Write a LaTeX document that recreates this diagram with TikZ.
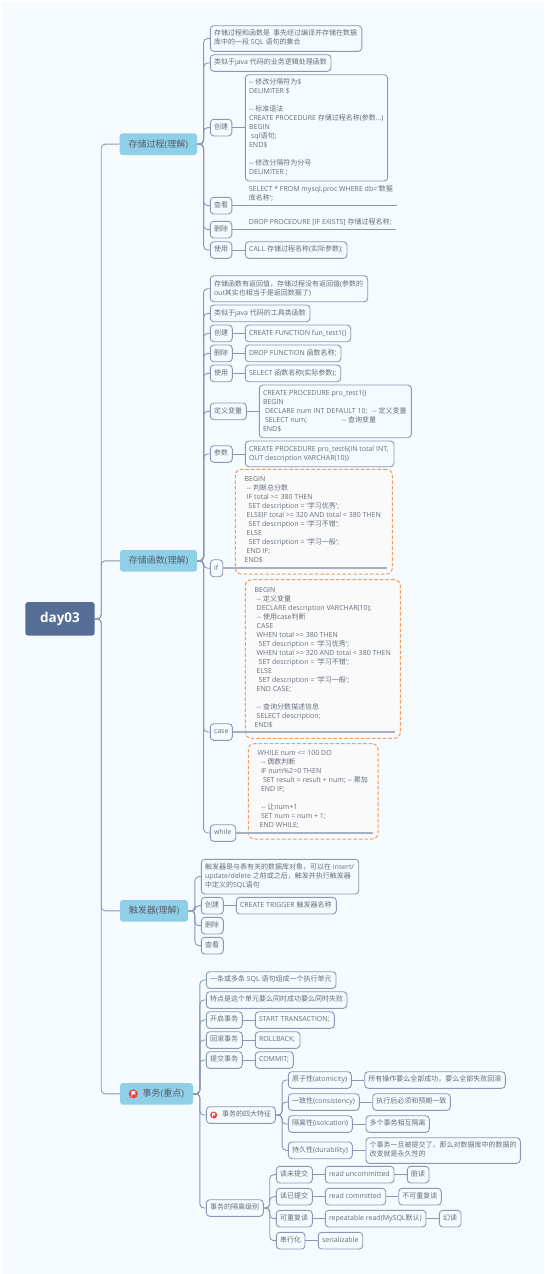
\documentclass[tikz,border=0pt]{standalone}
\usepackage{fontspec}
\setmainfont{Open Sans}[Ligatures=TeXOff]
\newfontfamily\cjk{Noto Sans CJK SC}
\newcommand{\zh}[1]{{\cjk #1}}
\newcommand{\ia}{\hspace*{2pt}}
\newcommand{\ib}{\hspace*{4pt}}
\definecolor{bgc}{HTML}{F6FBFF}
\definecolor{linec}{HTML}{8C98B2}
\definecolor{thickc}{HTML}{A7AFC3}
\definecolor{textc}{HTML}{666E7B}
\definecolor{topicc}{HTML}{8FD0E8}
\definecolor{rootc}{HTML}{566D96}
\definecolor{orangec}{HTML}{F39A5E}
\definecolor{orangef}{HTML}{FAFAFB}
\definecolor{flagc}{HTML}{EE3D33}
\tikzset{
  boxnode/.style={draw=linec,line width=0.9pt,rounded corners=3.5pt,fill=bgc,text=textc,inner xsep=3.7pt,inner ysep=0pt,font=\fontsize{7}{9}\selectfont},
  plainnode/.style={text=textc,inner xsep=3.7pt,inner ysep=0pt,font=\fontsize{7}{9}\selectfont},
  orangenode/.style={draw=orangec,line width=1pt,dash pattern=on 3.5pt off 2pt,rounded corners=6pt,fill=orangef,text=textc,inner xsep=3.7pt,inner ysep=0pt,font=\fontsize{7}{9}\selectfont},
  topicnode/.style={fill=topicc,rounded corners=3pt,text=textc!85!black,inner sep=0pt,font=\fontsize{9}{11}\selectfont},
  rootnode/.style={fill=rootc,rounded corners=3pt,text=white,inner sep=0pt,font=\fontsize{13.5}{16}\selectfont\bfseries},
  conn/.style={draw=linec,line width=0.9pt},
  connthick/.style={draw=thickc,line width=1.5pt},
  elbow/.style={conn,rounded corners=4pt}
}
\newcommand{\bx}[7][boxnode]{%
  \pgfmathsetmacro\bcx{(#3+#5)/2}\pgfmathsetmacro\bcy{(#4+#6)/2}%
  \pgfmathsetmacro\bw{#5-#3}\pgfmathsetmacro\bh{#6-#4}\pgfmathsetmacro\bt{#5-#3-7.4}%
  \node[#1,minimum width=\bw pt,minimum height=\bh pt] (#2) at (\bcx,\bcy)
    {\makebox[\bt pt][l]{\begin{tabular}{@{}l@{}}#7\end{tabular}}};}
\newcommand{\obx}[7][0]{%
  \pgfmathsetmacro\bcx{(#3+#5)/2}\pgfmathsetmacro\bcy{(#4+#6)/2}%
  \pgfmathsetmacro\bw{#5-#3}\pgfmathsetmacro\bh{#6-#4}\pgfmathsetmacro\bt{#5-#3-7.4}%
  \node[orangenode,minimum width=\bw pt,minimum height=\bh pt] (#2) at (\bcx,\bcy)
    {\makebox[\bt pt][l]{\begin{tabular}{@{\hspace{#1pt}}l@{}}#7\end{tabular}}};}
\newcommand{\tp}[7][topicnode]{%
  \pgfmathsetmacro\bcx{(#3+#5)/2}\pgfmathsetmacro\bcy{(#4+#6)/2}%
  \pgfmathsetmacro\bw{#5-#3}\pgfmathsetmacro\bh{#6-#4}%
  \node[#1,minimum width=\bw pt,minimum height=\bh pt] (#2) at (\bcx,\bcy) {#7};}
\newcommand{\hl}[2]{\draw[conn] (#1.east) -- (#1.east -| #2.west);}
\newcommand{\tree}[3]{\draw[elbow] (#1.east) -- ++(#2,0) |- (#3.west);}
\newcommand{\flagicon}[3]{%
  \fill[flagc] (#1,#2) circle (#3);
  \fill[white] (#1-0.45*#3,#2+0.6*#3) -- (#1-0.45*#3,#2-0.6*#3) -- (#1+0.55*#3,#2-0.6*#3)
     -- (#1+0.25*#3,#2-0.25*#3) -- (#1+0.55*#3,#2+0.1*#3) -- (#1-0.25*#3,#2+0.1*#3)
     -- (#1-0.25*#3,#2+0.6*#3) -- cycle;}
\begin{document}
\begin{tikzpicture}[x=1pt,y=-1pt]
\useasboundingbox (0,0) rectangle (545,1274);
\fill[white] (0,0) rectangle (545,1274);
\fill[bgc] (2,2) rectangle (544,1274);

% root and main topics
\tp[rootnode]{root}{25.3}{602}{94.7}{635.7}{day03}
\tp{m1}{119.6}{133.3}{197}{155}{\zh{存储过程}(\zh{理解})}
\tp{m2}{120}{550}{197}{571.7}{\zh{存储函数}(\zh{理解})}
\tp{m3}{120}{900}{188}{921.7}{\zh{触发器}(\zh{理解})}
\tp{m4}{120}{1083}{193}{1104.7}{\hspace*{13.6pt}\zh{事务}(\zh{重点})}
\flagicon{133.3}{1093.8}{4.5}
\tree{root}{6.3}{m1}
\tree{root}{6.3}{m2}
\tree{root}{6.3}{m3}
\tree{root}{6.3}{m4}

% stored procedures
\bx{a1}{210.3}{25.7}{361.8}{51.3}{\zh{存储过程和函数是 \ 事先经过编译并存储在数据}\\\zh{库中的一段} SQL \zh{语句的集合}}
\bx{a2}{210.3}{54.7}{331}{71.3}{\zh{类似于}java \zh{代码的业务逻辑处理函数}}
\bx{a3}{210.3}{119.3}{231.8}{136}{\zh{创建}}
\bx{a3b}{245.4}{74.7}{387.6}{181}{-- \zh{修改分隔符为}\$\\DELIMITER \$\\~\\-- \zh{标准语法}\\CREATE PROCEDURE \zh{存储过程名称}(\zh{参数}...)\\BEGIN\\\ia sql\zh{语句};\\END\$\\~\\-- \zh{修改分隔符为分号}\\DELIMITER ;}
\bx{a4}{210.3}{197.3}{231.8}{214}{\zh{查看}}
\bx[plainnode]{a4b}{245.2}{185}{400}{203.7}{SELECT * FROM mysql.proc WHERE db='\zh{数据}\\\zh{库名称}';}
\bx{a5}{210.3}{221.3}{231.8}{238}{\zh{删除}}
\bx[plainnode]{a5b}{245.2}{218}{400}{227.4}{DROP PROCEDURE [IF EXISTS] \zh{存储过程名称};}
\bx{a6}{210.3}{241.7}{231.8}{258.3}{\zh{使用}}
\bx{a6b}{245.4}{241.7}{347}{258.3}{CALL \zh{存储过程名称}(\zh{实际参数});}
\coordinate (a4e) at (397.3,205.7);
\coordinate (a5e) at (396.2,229.3);
\tree{m1}{6.4}{a1}\tree{m1}{6.4}{a2}\tree{m1}{6.4}{a3}\tree{m1}{6.4}{a4}\tree{m1}{6.4}{a5}\tree{m1}{6.4}{a6}
\hl{a3}{a3b}\hl{a6}{a6b}
\draw[conn] (a4.east) -- (a4.east -| a4e);
\draw[conn] (a5.east) -- (a5.east -| a5e);

% stored functions
\bx{b1}{210.3}{275.7}{367.7}{301.7}{\zh{存储函数有返回值，存储过程没有返回值}(\zh{参数的}\\out\zh{其实也相当于是返回数据了})}
\bx{b2}{210.3}{305}{310}{321.7}{\zh{类似于}java \zh{代码的工具类函数}}
\bx{b3}{210.3}{325}{232.3}{341.7}{\zh{创建}}
\bx{b3b}{245.3}{325}{350.7}{341.7}{CREATE FUNCTION fun\_test1()}
\bx{b4}{210.3}{345}{232.3}{361.7}{\zh{删除}}
\bx{b4b}{245.3}{345}{341}{361.7}{DROP FUNCTION \zh{函数名称};}
\bx{b5}{210.3}{365}{232.3}{381.7}{\zh{使用}}
\bx{b5b}{245.3}{365}{340.7}{381.7}{SELECT \zh{函数名称}(\zh{实际参数});}
\bx{b6}{210.3}{403}{246.3}{419.7}{\zh{定义变量}}
\bx{b6b}{259.3}{385}{411.3}{437.7}{CREATE PROCEDURE pro\_test1()\\BEGIN\\\ia DECLARE num INT DEFAULT 10;\hspace*{5pt}-- \zh{定义变量}\\\ia\makebox[76.7pt][l]{SELECT num;}-- \zh{查询变量}\\END\$}
\bx{b7}{210.3}{445.7}{232.3}{462.3}{\zh{参数}}
\bx{b7b}{245.3}{441}{394}{466.7}{CREATE PROCEDURE pro\_test6(IN total INT,\\OUT description VARCHAR(10))}
\obx[5.7]{b8b}{235.3}{469.3}{392.3}{574}{BEGIN\\\ia -- \zh{判断总分数}\\\ia IF total >= 380 THEN\\\ib SET description = '\zh{学习优秀}';\\\ia ELSEIF total >= 320 AND total < 380 THEN\\\ib SET description = '\zh{学习不错}';\\\ia ELSE\\\ib SET description = '\zh{学习一般}';\\\ia END IF;\\END\$\\[2.6pt]}
\bx{b8}{210.3}{559.7}{222.7}{576.7}{if}
\obx[5.7]{b9b}{245.3}{579.7}{400.3}{738.3}{BEGIN\\\ia -- \zh{定义变量}\\\ia DECLARE description VARCHAR(10);\\\ia -- \zh{使用}case\zh{判断}\\\ia CASE\\\ia WHEN total >= 380 THEN\\\ib SET description = '\zh{学习优秀}';\\\ia WHEN total >= 320 AND total < 380 THEN\\\ib SET description = '\zh{学习不错}';\\\ia ELSE\\\ib SET description = '\zh{学习一般}';\\\ia END CASE;\\~\\\ia -- \zh{查询分数描述信息}\\\ia SELECT description;\\END\$\\[2.6pt]}
\bx{b9}{210.3}{723.7}{232.3}{740.3}{case}
\obx[5.7]{b10b}{248.3}{743.7}{378}{839}{WHILE num <= 100 DO\\\hspace*{3.3pt}-- \zh{偶数判断}\\\hspace*{3.3pt}IF num\%2=0 THEN\\\hspace*{5.3pt}SET result = result + num; -- \zh{累加}\\\hspace*{3.3pt}END IF;\\~\\\hspace*{3.3pt}-- \zh{让}num+1\\\hspace*{3.3pt}SET num = num + 1;\\\hspace*{2pt}END WHILE;\\[2.6pt]}
\bx{b10}{210.3}{824.7}{235.7}{841.3}{while}
\coordinate (b8e) at (386.7,567.7);
\coordinate (b9e) at (394.7,731.7);
\coordinate (b10e) at (372.7,833);
\tree{m2}{6.4}{b1}\tree{m2}{6.4}{b2}\tree{m2}{6.4}{b3}\tree{m2}{6.4}{b4}\tree{m2}{6.4}{b5}\tree{m2}{6.4}{b6}\tree{m2}{6.4}{b7}\tree{m2}{6.4}{b8}\tree{m2}{6.4}{b9}\tree{m2}{6.4}{b10}
\hl{b3}{b3b}\hl{b4}{b4b}\hl{b5}{b5b}\hl{b6}{b6b}\hl{b7}{b7b}
\draw[connthick] (b8.east) -- (b8.east -| b8e);
\draw[connthick] (b9.east) -- (b9.east -| b9e);
\draw[connthick] (b10.east) -- (b10.east -| b10e);

% triggers
\bx{c1}{201.3}{859.3}{358.7}{894}{\zh{触发器是与表有关的数据库对象，可以在} insert/\\update/delete \zh{之前或之后，触发并执行触发器}\\\zh{中定义的}SQL\zh{语句}}
\bx{c2}{201.3}{897.3}{223.3}{914}{\zh{创建}}
\bx{c2b}{236.3}{897.3}{336.3}{914}{CREATE TRIGGER \zh{触发器名称}}
\bx{c3}{201.3}{917.3}{223.3}{934}{\zh{删除}}
\bx{c4}{201.3}{937.3}{223.3}{954}{\zh{查看}}
\tree{m3}{6.7}{c1}\tree{m3}{6.7}{c2}\tree{m3}{6.7}{c3}\tree{m3}{6.7}{c4}
\hl{c2}{c2b}

% transactions
\bx{d1}{206.3}{971.7}{336}{988.3}{\zh{一条或多条} SQL \zh{语句组成一个执行单元}}
\bx{d2}{206.3}{991.7}{347}{1008.3}{\zh{特点是这个单元要么同时成功要么同时失败}}
\bx{d3}{206.3}{1011.7}{242.3}{1028.3}{\zh{开启事务}}
\bx{d3b}{255.3}{1011.7}{334.3}{1028.3}{START TRANSACTION;}
\bx{d4}{206.3}{1031.7}{242.3}{1048.3}{\zh{回滚事务}}
\bx{d4b}{255.3}{1031.7}{300}{1048.3}{ROLLBACK;}
\bx{d5}{206.3}{1051.7}{242.3}{1068.3}{\zh{提交事务}}
\bx{d5b}{255.3}{1051.7}{293.3}{1068.3}{COMMIT;}
\bx{d6}{206.3}{1106.7}{275.3}{1123.3}{\hspace*{12pt}\zh{事务的四大特征}}
\flagicon{213.7}{1115}{3.5}
\bx{e1}{288.3}{1071.7}{351.3}{1088.3}{\zh{原子性}(atomicity)}
\bx{e1b}{364.7}{1071.7}{505.3}{1088.3}{\zh{所有操作要么全部成功，要么全部失败回滚}}
\bx{e2}{288.3}{1093.7}{359.3}{1110.3}{\zh{一致性}(consistency)}
\bx{e2b}{372.7}{1093.7}{450.3}{1110.3}{\zh{执行后必须和预期一致}}
\bx{e3}{288.3}{1115.7}{352.3}{1132.3}{\zh{隔离性}(isolcation)}
\bx{e3b}{366}{1115.7}{429.3}{1132.3}{\zh{多个事务相互隔离}}
\bx{e4}{288.3}{1142}{352.3}{1158.7}{\zh{持久性}(durability)}
\bx{e4b}{366}{1137.7}{520.3}{1163.3}{\zh{个事务一旦被提交了，那么对数据库中的数据的}\\\zh{改变就是永久性的}}
\bx{d7}{206.3}{1199.7}{263.3}{1216.3}{\zh{事务的隔离级别}}
\bx{f1}{276.3}{1166.3}{312.3}{1183}{\zh{读未提交}}
\bx{f1b}{325.3}{1166.3}{394}{1183}{read uncommitted}
\bx{f1c}{407.3}{1166.3}{429}{1183}{\zh{脏读}}
\bx{f2}{276.3}{1188.3}{312.3}{1205}{\zh{读已提交}}
\bx{f2b}{325.3}{1188.3}{385.7}{1205}{read committed}
\bx{f2c}{398.7}{1188.3}{441.3}{1205}{\zh{不可重复读}}
\bx{f3}{276.3}{1210.3}{312.3}{1227}{\zh{可重复读}}
\bx{f3b}{325.3}{1210.3}{426}{1227}{repeatable read(MySQL\zh{默认})}
\bx{f3c}{439.3}{1210.3}{461}{1227}{\zh{幻读}}
\bx{f4}{276.3}{1232.3}{305}{1249}{\zh{串行化}}
\bx{f4b}{318.3}{1232.3}{362.7}{1249}{serializable}
\tree{m4}{6.7}{d1}\tree{m4}{6.7}{d2}\tree{m4}{6.7}{d3}\tree{m4}{6.7}{d4}\tree{m4}{6.7}{d5}\tree{m4}{6.7}{d6}\tree{m4}{6.7}{d7}
\hl{d3}{d3b}\hl{d4}{d4b}\hl{d5}{d5b}
\tree{d6}{6.4}{e1}\tree{d6}{6.4}{e2}\tree{d6}{6.4}{e3}\tree{d6}{6.4}{e4}
\hl{e1}{e1b}\hl{e2}{e2b}\hl{e3}{e3b}\hl{e4}{e4b}
\tree{d7}{6}{f1}\tree{d7}{6}{f2}\tree{d7}{6}{f3}\tree{d7}{6}{f4}
\hl{f1}{f1b}\hl{f1b}{f1c}\hl{f2}{f2b}\hl{f2b}{f2c}\hl{f3}{f3b}\hl{f3b}{f3c}\hl{f4}{f4b}
\end{tikzpicture}
\end{document}
